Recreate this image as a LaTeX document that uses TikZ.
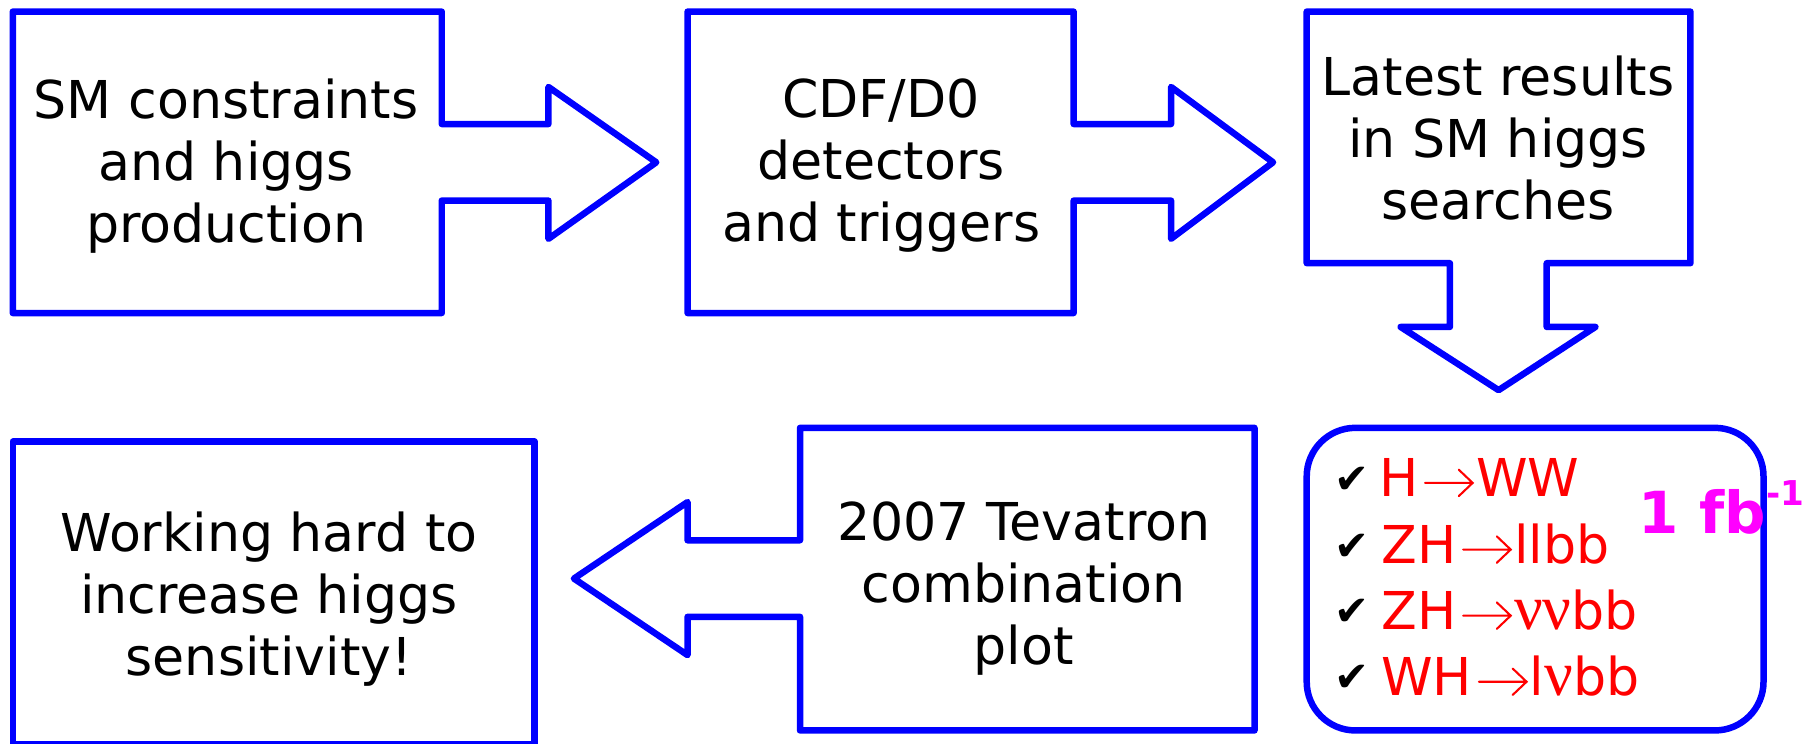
\documentclass[tikz,border=0pt]{standalone}
\usepackage{fontspec}
\usepackage{graphicx}
\setmainfont{DejaVu Sans}
\newfontfamily\symserif{Liberation Serif}
\newfontfamily\dingfont{DejaVu Sans}
\definecolor{frameblue}{RGB}{0,0,255}
\definecolor{itemred}{RGB}{255,0,0}
\definecolor{lumimag}{RGB}{255,0,255}
% thin open-headed arrow used inside the decay channels
\newcommand\ra{\hspace{2.5pt}\tikz[baseline=0pt, x=1pt, y=1pt]{%
  \draw[draw=itemred, line width=0.9pt, line cap=round, line join=miter]
    (0,6) -- (20.5,6) (14.5,0.3) -- (20.5,6) -- (14.5,11.7);}\hspace{1pt}}
\newcommand\gnu{\scalebox{1.22}{\symserif ν}}
\tikzset{
  outline/.style={draw=frameblue, line width=2.8pt, line join=round},
  label/.style={font=\fontsize{22.5}{26.75}\selectfont, align=center, inner sep=0pt, anchor=base},
  item/.style={font=\fontsize{22.5}{26.75}\selectfont, text=itemred, inner sep=0pt, anchor=base west},
  tick/.style={font=\dingfont\fontsize{18}{18}\selectfont, inner sep=0pt},
}
\begin{document}
\begin{tikzpicture}[x=0.5pt, y=-0.5pt]
\useasboundingbox (0,0) rectangle (1568,641);

% right-pointing callout: SM constraints
\draw[outline] (11,10) -- (381,10) -- (381,107) -- (473,107) -- (473,75) -- (566,140)
  -- (473,206) -- (473,173) -- (381,173) -- (381,270) -- (11,270) -- cycle;
% right-pointing callout: detectors
\draw[outline] (593,10) -- (926,10) -- (926,107) -- (1010,107) -- (1010,75) -- (1098,140)
  -- (1010,206) -- (1010,173) -- (926,173) -- (926,270) -- (593,270) -- cycle;
% down-pointing callout: latest results
\draw[outline] (1127,10) -- (1458,10) -- (1458,227) -- (1334,227) -- (1334,282) -- (1376,282)
  -- (1292.5,336.5) -- (1208,282) -- (1250.5,282) -- (1250.5,227) -- (1127,227) -- cycle;
% rounded box with the channel list
\draw[outline, rounded corners=21pt] (1127,369) rectangle (1521,630);
% left-pointing callout: combination plot
\draw[outline] (1082,369) -- (1082,630) -- (690,630) -- (690,532) -- (593,532) -- (593,565)
  -- (495,499) -- (593,433) -- (593,466) -- (690,466) -- (690,369) -- cycle;
% last box, running off the bottom
\draw[outline] (11,381) rectangle (461,642);

% box texts (anchored on the baseline of the last line)
\node[label] (smc) at (195,209) {SM constraints\\and higgs\\production};
\node[label] (det) at (760,208) {CDF/D0\\detectors\\and triggers};
\node[label] (res) at (1292,189) {Latest results\\in SM higgs\\searches};
\node[label] (comb) at (883,573) {2007 Tevatron\\combination\\plot};
\node[label] (work) at (232,583) {Working hard to\\increase higgs\\sensitivity!};

% channel list
\node[tick] (c1) at (1166,414) {✔};
\node[tick] (c2) at (1166,472) {✔};
\node[tick] (c3) at (1166,528) {✔};
\node[tick] (c4) at (1166,585) {✔};
\node[item] (hww) at (1189,428.5) {H\ra WW};
\node[item] (zll) at (1191,486) {ZH\ra llbb};
\node[item] (znn) at (1191,543) {ZH\ra\gnu\gnu bb};
\node[item] (wln) at (1191,600) {WH\ra l\gnu bb};

% integrated luminosity
\node[anchor=base west, inner sep=0pt, text=lumimag, font=\bfseries\fontsize{25}{25}\selectfont]
  (lumi) at (1413,460) {1 fb\raisebox{12pt}{\fontsize{14.75}{15}\selectfont -1}};
\end{tikzpicture}
\end{document}
